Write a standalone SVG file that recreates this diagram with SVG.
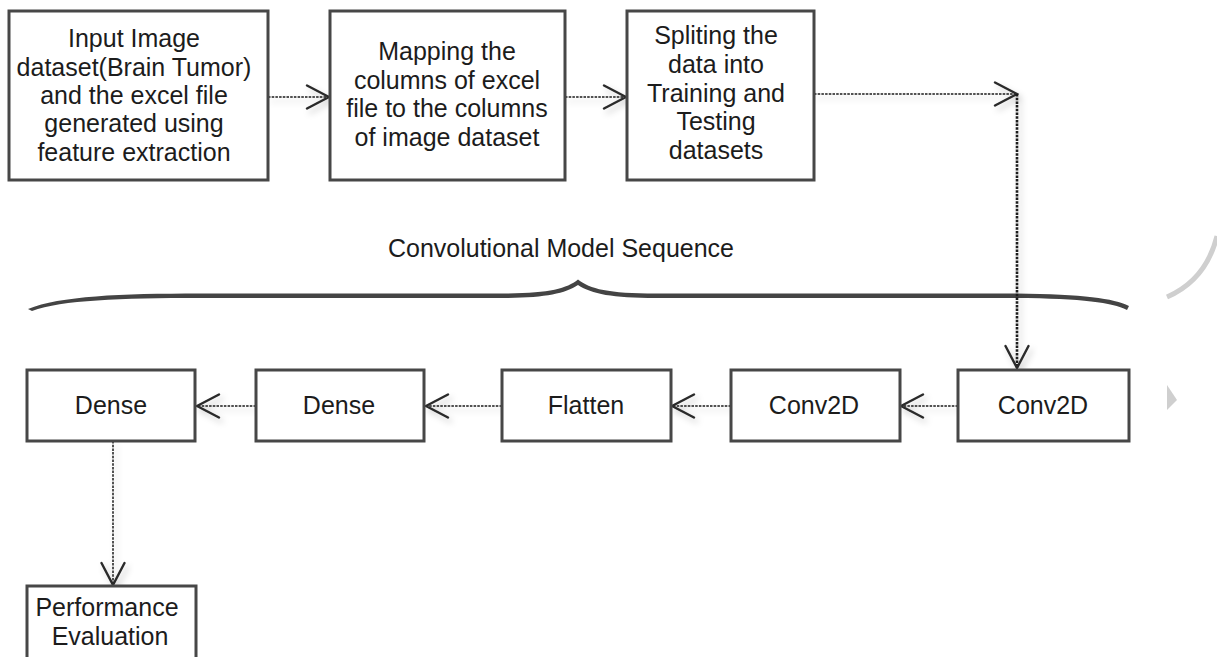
<svg xmlns="http://www.w3.org/2000/svg" width="1217" height="657" viewBox="0 0 1217 657">
<style>
.box{fill:#fff;stroke:#474747;stroke-width:3}
.t{font-family:"Liberation Sans",Arial,sans-serif;font-size:25px;fill:#1c1c1c;text-anchor:middle}
.c{fill:none;stroke:#1a1a1a;stroke-width:1.5;stroke-dasharray:2.5 1.2}
.head{fill:none;stroke:#2a2a2a;stroke-width:2.4;stroke-linecap:round;stroke-linejoin:miter}
</style>
<defs>
<filter id="sh" x="-20%" y="-20%" width="140%" height="140%">
<feDropShadow dx="3" dy="4" stdDeviation="3" flood-color="#000" flood-opacity="0.22"/>
</filter>
<marker id="ah" viewBox="-24 -13 26 26" refX="0" refY="0" markerWidth="26" markerHeight="26" markerUnits="userSpaceOnUse" orient="auto">
<polyline class="head" points="-22,-11.5 0,0 -22,11.5"/>
</marker>
</defs>

<g id="decor" fill="none">
<path d="M1167,297 Q1206,280 1217,236" stroke="#cfcfcf" stroke-width="5"/>
<polygon points="1167,385 1177,400 1167,410" fill="#cfcfcf"/>
</g>

<g id="brace">
<text class="t" x="561" y="257">Convolutional Model Sequence</text>
<path d="M28,309 C60,296 120,293.5 200,293.5 L500,293.5 C548,293.5 566,289 578,279.5 C590,289 608,293.5 656,293.5 L1000,293.5 C1080,293.5 1112,298 1129,306 L1127,310 C1110,302 1080,298 1000,298 L656,298 C612,298 592,294 578,285 C564,294 544,298 500,298 L200,298 C120,298 62,300 32,311 Z" fill="#444"/>
</g>

<g id="connectors" filter="url(#sh)">
<line class="c" x1="268" y1="97" x2="329" y2="97" marker-end="url(#ah)"/>
<line class="c" x1="565" y1="97" x2="626" y2="97" marker-end="url(#ah)"/>
<line class="c" x1="814" y1="94" x2="1017" y2="94" marker-end="url(#ah)"/>
<line class="c" x1="1017" y1="94" x2="1017" y2="368" style="stroke-width:2.6" marker-end="url(#ah)"/>
<line class="c" x1="958" y1="406" x2="901" y2="406" marker-end="url(#ah)"/>
<line class="c" x1="731" y1="406" x2="672" y2="406" marker-end="url(#ah)"/>
<line class="c" x1="502" y1="406" x2="426" y2="406" marker-end="url(#ah)"/>
<line class="c" x1="256" y1="406" x2="197" y2="406" marker-end="url(#ah)"/>
<line class="c" x1="113" y1="441" x2="113" y2="585" marker-end="url(#ah)"/>
</g>

<g id="n1">
<rect class="box" x="9" y="11" width="259" height="169"/>
<text class="t" x="134" y="47">Input Image</text>
<text class="t" x="134" y="75.5">dataset(Brain Tumor)</text>
<text class="t" x="134" y="104">and the excel file</text>
<text class="t" x="134" y="132">generated using</text>
<text class="t" x="134" y="160.5">feature extraction</text>
</g>
<g id="n2">
<rect class="box" x="330" y="11" width="235" height="169"/>
<text class="t" x="447" y="60">Mapping the</text>
<text class="t" x="447" y="88.5">columns of excel</text>
<text class="t" x="447" y="117">file to the columns</text>
<text class="t" x="447" y="145.5">of image dataset</text>
</g>
<g id="n3">
<rect class="box" x="627" y="11" width="187" height="169"/>
<text class="t" x="716" y="44">Spliting the</text>
<text class="t" x="716" y="73">data into</text>
<text class="t" x="716" y="101.5">Training and</text>
<text class="t" x="716" y="130">Testing</text>
<text class="t" x="716" y="158.5">datasets</text>
</g>
<g id="n4">
<rect class="box" x="958" y="370" width="171" height="71"/>
<text class="t" x="1043" y="414">Conv2D</text>
</g>
<g id="n5">
<rect class="box" x="731" y="370" width="169" height="71"/>
<text class="t" x="814" y="414">Conv2D</text>
</g>
<g id="n6">
<rect class="box" x="502" y="370" width="169" height="71"/>
<text class="t" x="586" y="414">Flatten</text>
</g>
<g id="n7">
<rect class="box" x="256" y="370" width="168" height="71"/>
<text class="t" x="339" y="414">Dense</text>
</g>
<g id="n8">
<rect class="box" x="27" y="370" width="168" height="71"/>
<text class="t" x="111" y="414">Dense</text>
</g>
<g id="n9">
<rect class="box" x="27" y="586" width="169" height="80"/>
<text class="t" x="107" y="616">Performance</text>
<text class="t" x="110" y="645">Evaluation</text>
</g>
</svg>
